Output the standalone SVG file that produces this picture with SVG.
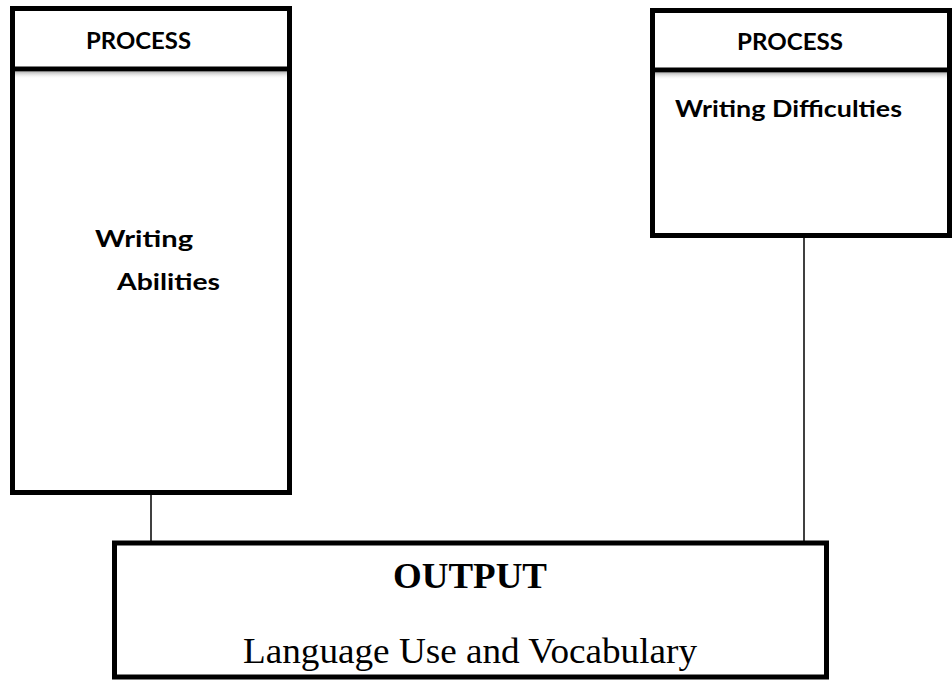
<svg xmlns="http://www.w3.org/2000/svg" width="952" height="681" viewBox="0 0 952 681">
  <style>
    .box { fill: #ffffff; stroke: #000000; stroke-width: 5; }
    .div { stroke: #000000; stroke-width: 5; fill: none; }
    .conn { stroke: #000000; stroke-width: 1.5; fill: none; }
    .sans { font-family: "Lato", "Liberation Sans", sans-serif; font-weight: 700; font-size: 23.5px; fill: #000000; }
    .serifb { font-family: "Liberation Serif", "Times New Roman", serif; font-weight: 700; font-size: 35px; fill: #000000; }
    .serif { font-family: "Liberation Serif", "Times New Roman", serif; font-size: 36px; fill: #000000; }
  </style>
  <defs>
    <linearGradient id="shadow" x1="0" y1="0" x2="0" y2="1">
      <stop offset="0" stop-color="#bdbdbd"/>
      <stop offset="1" stop-color="#ffffff" stop-opacity="0"/>
    </linearGradient>
  </defs>
  <rect width="952" height="681" fill="#ffffff"/>

  <g id="connectors">
    <line class="conn" x1="151" y1="494" x2="151" y2="541"/>
    <line class="conn" x1="804" y1="237" x2="804" y2="541"/>
  </g>

  <g id="process-left">
    <rect class="box" x="12.5" y="8.5" width="277" height="484"/>
    <rect x="15" y="72" width="272" height="7" fill="url(#shadow)"/>
    <line class="div" x1="12.5" y1="69" x2="289.5" y2="69"/>
    <text class="sans" x="86" y="49" textLength="105" lengthAdjust="spacingAndGlyphs">PROCESS</text>
    <text class="sans" x="95" y="247" textLength="98" lengthAdjust="spacingAndGlyphs">Writing</text>
    <text class="sans" x="117" y="290" textLength="103" lengthAdjust="spacingAndGlyphs">Abilities</text>
  </g>

  <g id="process-right">
    <rect class="box" x="652.5" y="10.5" width="297" height="225"/>
    <rect x="655" y="73" width="292" height="7" fill="url(#shadow)"/>
    <line class="div" x1="652.5" y1="70" x2="949.5" y2="70"/>
    <text class="sans" x="737" y="50" textLength="106" lengthAdjust="spacingAndGlyphs">PROCESS</text>
    <text class="sans" x="675" y="117" textLength="227" lengthAdjust="spacingAndGlyphs">Writing Difficulties</text>
  </g>

  <g id="output">
    <rect class="box" x="114.5" y="543" width="712" height="134"/>
    <text class="serifb" x="393" y="588" textLength="154" lengthAdjust="spacingAndGlyphs">OUTPUT</text>
    <text class="serif" x="243" y="663" textLength="454" lengthAdjust="spacingAndGlyphs">Language Use and Vocabulary</text>
  </g>
</svg>
